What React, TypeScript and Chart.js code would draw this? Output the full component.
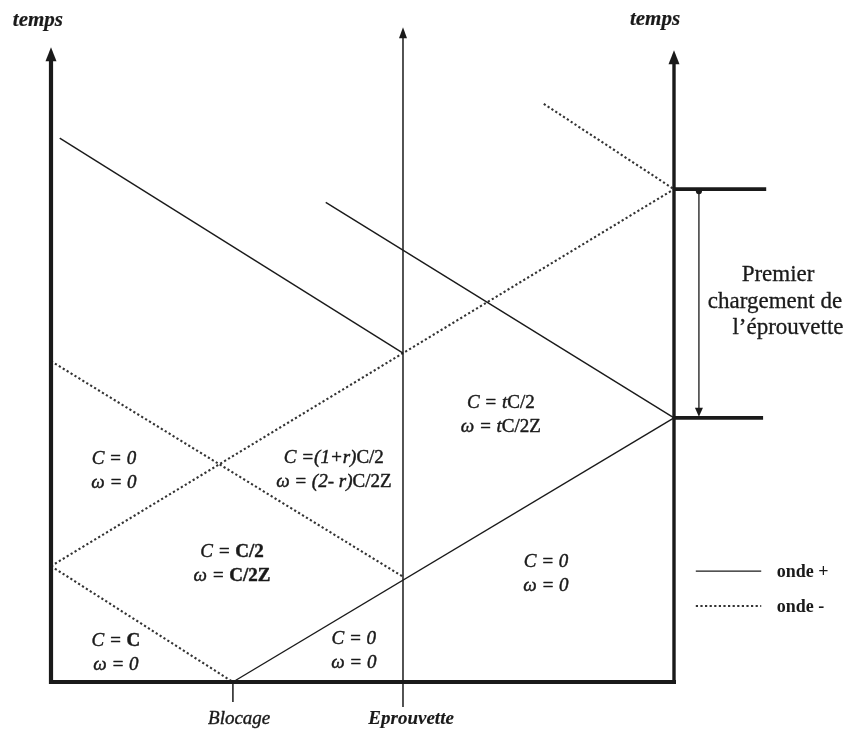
import React, { useEffect, useRef } from "react";
import { Chart, registerables } from "chart.js";

Chart.register(...registerables);

// ---------- canvas / unit mapping ----------
const W = 852;
const H = 738;
const PX = 6.23; // pixels per diagram unit
const ORIGIN_X = 51;
const ORIGIN_Y = 682;
const XMIN = -ORIGIN_X / PX;
const XMAX = (W - ORIGIN_X) / PX;
const YMIN = -(H - ORIGIN_Y) / PX;
const YMAX = ORIGIN_Y / PX;

// ---------- data (position units, time units) ----------
const sitePositions = [0, 29.2, 56.5, 100]; // left wall, blocage, eprouvette, right wall
const siteLabels = ["", "Blocage", "Eprouvette", ""];
const axisTops = [101.9, 0, 105.1, 101.4]; // arrow tip of each time line (0 = none)
const tickBottoms = [0, -3.2, -4.0, 0];

type P = [number, number];
const ondePlus: P[][] = [
  [[29.2, 0], [100, 42.4]],
  [[1.4, 87.3], [56.5, 52.8]],
  [[44.1, 77.0], [100, 42.4]],
];
const ondeMoins: P[][] = [
  [[0, 18.6], [29.2, 0]],
  [[0, 18.6], [100, 79.1]],
  [[0, 51.5], [56.5, 16.9]],
  [[79.1, 92.8], [100, 79.1]],
];
const loadingTimes = [79.1, 42.4];
const loadingEnds = [114.8, 114.3];
const loadingArrowX = 104;

// region labels: [centre x, first baseline], lines of [text, style]
type Seg = [string, string];
const regionAnchors: P[] = [
  [10.1, 35.0],
  [29.05, 20.06],
  [10.43, 5.78],
  [48.6, 6.1],
  [45.4, 35.15],
  [72.2, 43.98],
  [79.45, 18.46],
];
const regionTexts: Seg[][][] = [
  [[["C = 0", "i"]], [["ω = 0", "i"]]],
  [[["C = ", "i"], ["C/2", "b"]], [["ω = ", "i"], ["C/2Z", "b"]]],
  [[["C = ", "i"], ["C", "b"]], [["ω = 0", "i"]]],
  [[["C = 0", "i"]], [["ω = 0", "i"]]],
  [[["C =(1+r)", "i"], ["C/2", "r"]], [["ω = (2- r)", "i"], ["C/2Z", "r"]]],
  [[["C = t", "i"], ["C/2", "r"]], [["ω = t", "i"], ["C/2Z", "r"]]],
  [[["C = 0", "i"]], [["ω = 0", "i"]]],
];

const noteLines = ["Premier", "chargement de", "l’éprouvette"];
const noteAnchors: P[] = [
  [116.7, 64.4],
  [116.2, 60.1],
  [118.3, 55.8],
];

const axisTitle = "temps";
const axisTitleAnchors: P[] = [
  [-2.1, 105.3],
  [96.95, 105.5],
];

const legendLabels = ["onde +", "onde -"];
const legendRows = [17.8, 12.2];
const legendLine = [103.5, 114.0];
const legendTextX = 116.5;

// ---------- styling ----------
const FONT = "'Liberation Serif', 'Times New Roman', serif";
const INK = "#1a1a1a";
const fontFor = (style: string, size: number) =>
  style === "i"
    ? `italic ${size}px ${FONT}`
    : style === "b"
    ? `bold ${size}px ${FONT}`
    : style === "bi"
    ? `italic bold ${size}px ${FONT}`
    : `${size}px ${FONT}`;

function seg(a: P, b: P, width: number, dash: number[] = [], color = INK, cap: any = "butt") {
  return {
    data: [
      { x: a[0], y: a[1] },
      { x: b[0], y: b[1] },
    ],
    showLine: true,
    borderColor: color,
    borderWidth: width,
    borderDash: dash,
    borderCapStyle: cap,
    pointRadius: 0,
    pointHoverRadius: 0,
    fill: false,
    tension: 0,
  };
}

const DOT = [2.2, 2.4];
const DOT_COLOR = "#333333";

function buildDatasets() {
  const ds: any[] = [];
  const headLen = 12 / PX;
  // time axes (walls + eprouvette)
  sitePositions.forEach((x, i) => {
    const top = axisTops[i];
    if (top > 0) {
      const w = i === 2 ? 1.5 : i === 0 ? 4.2 : 3.4;
      ds.push(seg([x, tickBottoms[i]], [x, top - headLen * 0.8], w, [], INK, i === 2 ? "butt" : "square"));
    } else if (tickBottoms[i] < 0) {
      ds.push(seg([x, 0], [x, tickBottoms[i]], 1.5));
    }
  });
  // bottom axis
  ds.push(seg([sitePositions[0], 0], [sitePositions[3], 0], 4, [], INK, "square"));
  // waves
  ondePlus.forEach((s) => ds.push(seg(s[0], s[1], 1.4)));
  ondeMoins.forEach((s) => ds.push(seg(s[0], s[1], 2.1, DOT, DOT_COLOR)));
  // loading levels
  loadingTimes.forEach((t, i) => ds.push(seg([sitePositions[3], t], [loadingEnds[i], t], 3.8)));
  ds.push(seg([loadingArrowX, loadingTimes[0]], [loadingArrowX, loadingTimes[1] + 6 / PX], 1.3));
  // legend
  ds.push(seg([legendLine[0], legendRows[0]], [legendLine[1], legendRows[0]], 1.4));
  ds.push(seg([legendLine[0], legendRows[1]], [legendLine[1], legendRows[1]], 1.8, DOT, DOT_COLOR));
  return ds;
}

const drawPlugin = {
  id: "diagramText",
  afterDatasetsDraw(chart: any) {
    const ctx: CanvasRenderingContext2D = chart.ctx;
    const xs = chart.scales.x;
    const ys = chart.scales.y;
    const px = (v: number) => xs.getPixelForValue(v);
    const py = (v: number) => ys.getPixelForValue(v);
    ctx.save();
    ctx.fillStyle = INK;
    ctx.strokeStyle = INK;
    ctx.lineJoin = "round";

    // arrowheads
    const head = (x: number, y: number, dir: number, w: number, l: number) => {
      const X = px(x);
      const Y = py(y);
      ctx.beginPath();
      ctx.moveTo(X, Y);
      ctx.lineTo(X - w / 2, Y + dir * l);
      ctx.lineTo(X + w / 2, Y + dir * l);
      ctx.closePath();
      ctx.fill();
    };
    sitePositions.forEach((x, i) => {
      if (axisTops[i] > 0) head(x, axisTops[i], 1, i === 2 ? 8 : 11, i === 2 ? 11 : 14);
    });
    head(loadingArrowX, loadingTimes[1] + 1 / PX, -1, 8, 9);
    ctx.beginPath();
    ctx.arc(px(loadingArrowX), py(loadingTimes[0]) + 2, 3, 0, Math.PI * 2);
    ctx.fill();

    // mixed-font lines
    const drawSegs = (segs: Seg[], cx: number, by: number, size: number, weight: number) => {
      let total = 0;
      segs.forEach(([t, s]) => {
        ctx.font = fontFor(s, size);
        total += ctx.measureText(t).width;
      });
      let x = cx - total / 2;
      ctx.textAlign = "left";
      ctx.textBaseline = "alphabetic";
      segs.forEach(([t, s]) => {
        ctx.font = fontFor(s, size);
        ctx.fillText(t, x, by);
        if (weight > 0) {
          ctx.lineWidth = weight;
          ctx.strokeText(t, x, by);
        }
        x += ctx.measureText(t).width;
      });
    };

    regionTexts.forEach((lines, i) => {
      const [ax, ay] = regionAnchors[i];
      lines.forEach((segs, j) => drawSegs(segs, px(ax), py(ay) + j * 24, 19, 0.45));
    });

    noteLines.forEach((t, i) => {
      drawSegs([[t, "r"]], px(noteAnchors[i][0]), py(noteAnchors[i][1]), 23, 0.3);
    });

    axisTitleAnchors.forEach(([x, y]) => drawSegs([[axisTitle, "bi"]], px(x), py(y), 21, 0.2));

    siteLabels.forEach((t, i) => {
      if (!t) return;
      const x = i === 1 ? sitePositions[i] + 1.0 : sitePositions[i] + 1.3;
      drawSegs([[t, i === 2 ? "bi" : "i"]], px(x), py(-6.74), 19, i === 2 ? 0.15 : 0.4);
    });

    ctx.font = fontFor("b", 18);
    ctx.textAlign = "left";
    ctx.textBaseline = "middle";
    legendLabels.forEach((t, i) => ctx.fillText(t, px(legendTextX), py(legendRows[i]) + 1));

    ctx.restore();
  },
};

export default function App() {
  const ref = useRef<HTMLCanvasElement | null>(null);
  useEffect(() => {
    if (!ref.current) return;
    const chart = new Chart(ref.current, {
      type: "scatter",
      data: { datasets: buildDatasets() },
      options: {
        animation: false,
        responsive: false,
        devicePixelRatio: 1,
        layout: { padding: 0 },
        events: [],
        plugins: { legend: { display: false }, tooltip: { enabled: false } },
        scales: {
          x: { type: "linear", min: XMIN, max: XMAX, display: false },
          y: { type: "linear", min: YMIN, max: YMAX, display: false },
        },
      },
      plugins: [drawPlugin],
    } as any);
    return () => chart.destroy();
  }, []);
  return (
    <div style={{ position: "fixed", left: 0, top: 0, width: W, height: H, background: "#fff" }}>
      <canvas ref={ref} width={W} height={H} style={{ width: W, height: H, display: "block" }} />
    </div>
  );
}
